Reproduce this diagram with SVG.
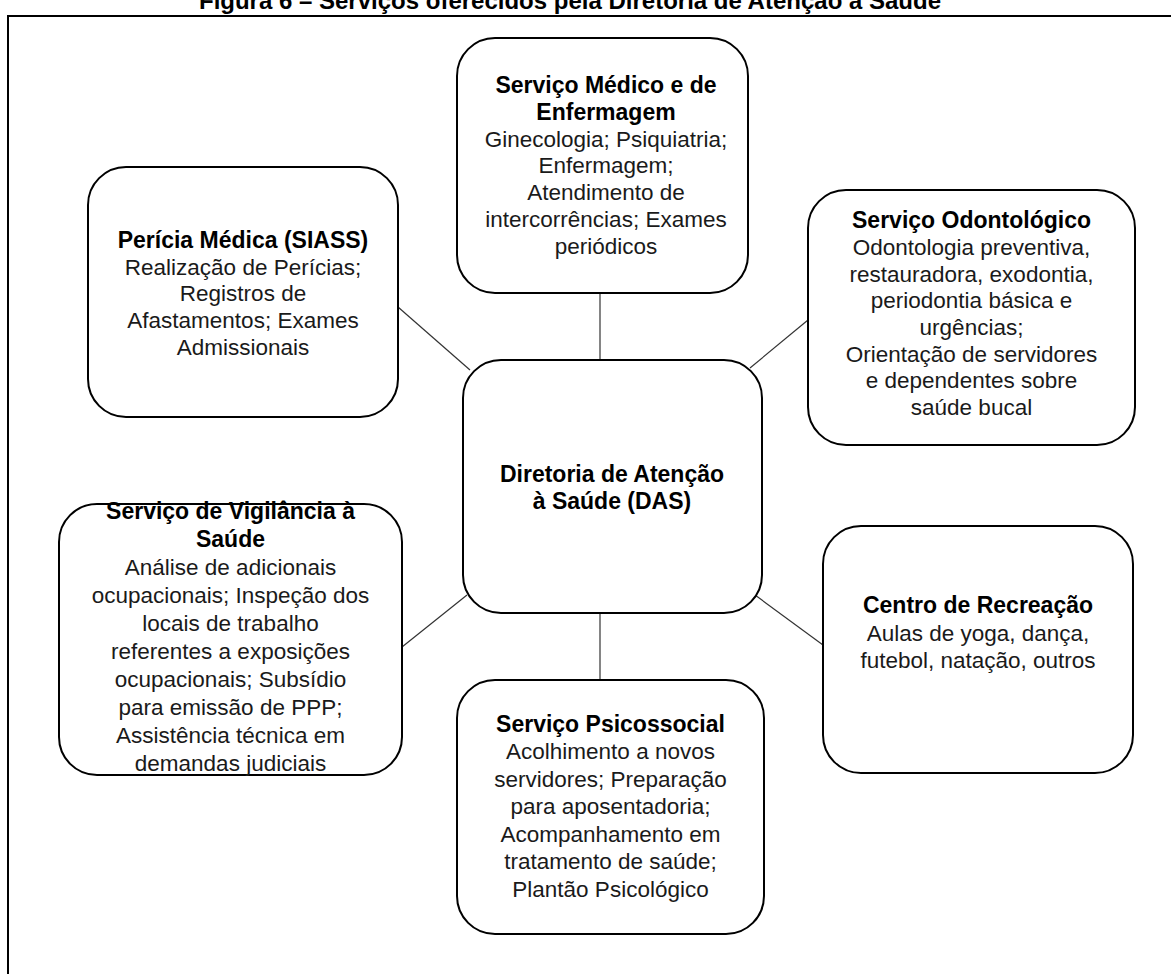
<svg xmlns="http://www.w3.org/2000/svg" width="1171" height="974" viewBox="0 0 1171 974">
<style>
.box{fill:#fff;stroke:#000;stroke-width:2}
.con{stroke:#333;stroke-width:1.2;fill:none}
text{font-family:"Liberation Sans",Arial,sans-serif;font-size:22.5px;fill:#1a1a1a;text-anchor:middle}
.b{font-weight:bold;fill:#000;font-size:23px}
.title{font-weight:bold;fill:#000;font-size:24px}
</style>
<rect x="0" y="0" width="1171" height="974" fill="#fff"/>
<text class="title" x="570" y="9">Figura 6 – Serviços oferecidos pela Diretoria de Atenção à Saúde</text>
<rect x="8" y="16" width="1200" height="1000" fill="none" stroke="#000" stroke-width="2"/>
<g id="connectors">
<path class="con" d="M600,293 V360"/>
<path class="con" d="M600,613 V680"/>
<path class="con" d="M398,307 L470,370"/>
<path class="con" d="M750,368 L808,320"/>
<path class="con" d="M467,595 L402,647"/>
<path class="con" d="M755,595 L823,645"/>
</g>
<g id="medico">
<rect class="box" x="457" y="38" width="291" height="255" rx="38"/>
<text class="b" x="606" y="93">Serviço Médico e de</text>
<text class="b" x="606" y="119.8">Enfermagem</text>
<text x="606" y="146.6">Ginecologia; Psiquiatria;</text>
<text x="606" y="173.4">Enfermagem;</text>
<text x="606" y="200.2">Atendimento de</text>
<text x="606" y="227">intercorrências; Exames</text>
<text x="606" y="253.8">periódicos</text>
</g>
<g id="pericia">
<rect class="box" x="88" y="167" width="310" height="250" rx="38"/>
<text class="b" x="243" y="248">Perícia Médica (SIASS)</text>
<text x="243" y="274.7">Realização de Perícias;</text>
<text x="243" y="301.4">Registros de</text>
<text x="243" y="328.1">Afastamentos; Exames</text>
<text x="243" y="354.8">Admissionais</text>
</g>
<g id="odonto">
<rect class="box" x="808" y="190" width="327" height="255" rx="38"/>
<text class="b" x="971.5" y="228">Serviço Odontológico</text>
<text x="971.5" y="255">Odontologia preventiva,</text>
<text x="971.5" y="281.6">restauradora, exodontia,</text>
<text x="971.5" y="308.3">periodontia básica e</text>
<text x="971.5" y="335">urgências;</text>
<text x="971.5" y="361.6">Orientação de servidores</text>
<text x="971.5" y="388.3">e dependentes sobre</text>
<text x="971.5" y="415">saúde bucal</text>
</g>
<g id="das">
<rect class="box" x="463" y="360" width="299" height="253" rx="38"/>
<text class="b" x="612" y="482">Diretoria de Atenção</text>
<text class="b" x="612" y="509">à Saúde (DAS)</text>
</g>
<g id="vigilancia">
<rect class="box" x="59" y="504" width="343" height="271" rx="38"/>
<text class="b" x="230.5" y="519">Serviço de Vigilância à</text>
<text class="b" x="230.5" y="547">Saúde</text>
<text x="230.5" y="575">Análise de adicionais</text>
<text x="230.5" y="603">ocupacionais; Inspeção dos</text>
<text x="230.5" y="631">locais de trabalho</text>
<text x="230.5" y="659">referentes a exposições</text>
<text x="230.5" y="687">ocupacionais; Subsídio</text>
<text x="230.5" y="715">para emissão de PPP;</text>
<text x="230.5" y="743">Assistência técnica em</text>
<text x="230.5" y="771">demandas judiciais</text>
</g>
<g id="recreacao">
<rect class="box" x="823" y="526" width="310" height="247" rx="38"/>
<text class="b" x="978" y="613">Centro de Recreação</text>
<text x="978" y="640.5">Aulas de yoga, dança,</text>
<text x="978" y="668">futebol, natação, outros</text>
</g>
<g id="psicossocial">
<rect class="box" x="457" y="680" width="307" height="254" rx="38"/>
<text class="b" x="610.5" y="731.7">Serviço Psicossocial</text>
<text x="610.5" y="759.2">Acolhimento a novos</text>
<text x="610.5" y="786.7">servidores; Preparação</text>
<text x="610.5" y="814.2">para aposentadoria;</text>
<text x="610.5" y="841.7">Acompanhamento em</text>
<text x="610.5" y="869.2">tratamento de saúde;</text>
<text x="610.5" y="896.7">Plantão Psicológico</text>
</g>
</svg>
